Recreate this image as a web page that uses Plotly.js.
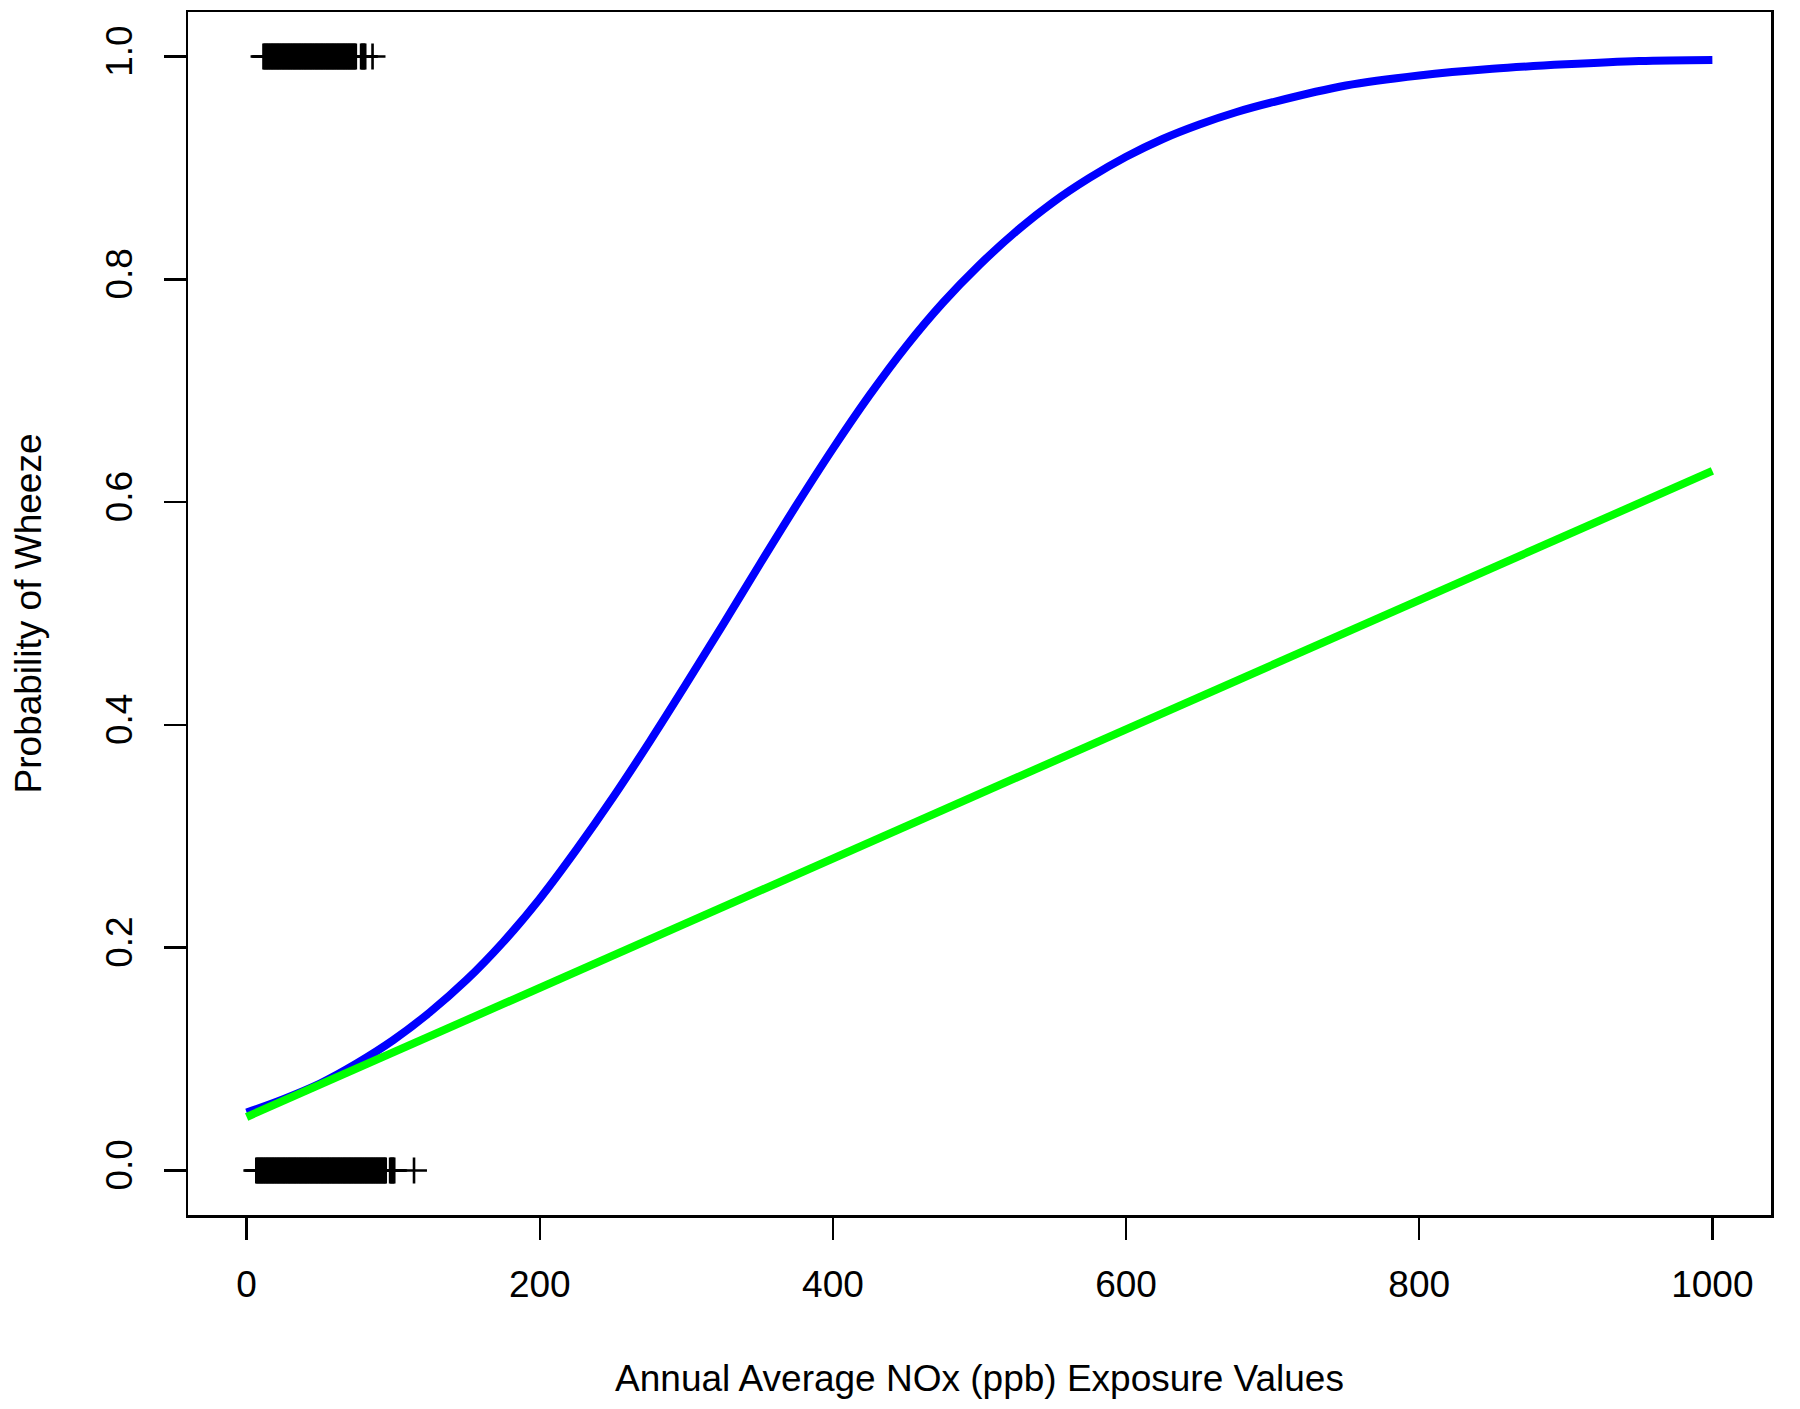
<!DOCTYPE html>
<html>
<head>
<meta charset="utf-8">
<script src="https://cdn.plot.ly/plotly-3.0.1.min.js"></script>
<style>html,body{margin:0;padding:0;background:#fff;}#chart{width:1800px;height:1409px;}</style>
</head>
<body>
<div id="chart"></div>
<script>
// Logistic fit (blue): NOx exposure vs predicted probability of wheeze
const logisticX = [0, 25, 50, 75, 100, 125, 150, 175, 200, 225, 250, 275, 300, 325, 350, 375, 400, 425, 450, 475, 500, 525, 550, 575, 600, 625, 650, 675, 700, 750, 800, 850, 900, 950, 1000];
const logisticP = [0.052, 0.064, 0.078, 0.096, 0.117, 0.142, 0.171, 0.205, 0.244, 0.288, 0.335, 0.385, 0.437, 0.490, 0.544, 0.597, 0.648, 0.696, 0.740, 0.779, 0.813, 0.843, 0.869, 0.891, 0.910, 0.926, 0.939, 0.950, 0.959, 0.974, 0.983, 0.989, 0.993, 0.996, 0.997];

// Linear fit (green)
const linearX = [0, 1000];
const linearP = [0.048, 0.628];

// Observed exposures: cases (wheeze = 1) and non-cases (wheeze = 0)
const casesX = [11.5, 12.2, 13.0, 13.7, 14.5, 15.2, 16.0, 16.7, 17.5, 18.2, 19.0, 19.7, 20.5, 21.2, 22.0, 22.7, 23.5, 24.2, 25.0, 25.7, 26.5, 27.2, 28.0, 28.7, 29.5, 30.2, 31.0, 31.7, 32.5, 33.2, 34.0, 34.7, 35.5, 36.2, 37.0, 37.7, 38.5, 39.2, 40.0, 40.7, 41.5, 42.2, 43.0, 43.7, 44.5, 45.2, 46.0, 46.7, 47.5, 48.2, 49.0, 49.7, 50.5, 51.2, 52.0, 52.7, 53.5, 54.2, 55.0, 55.7, 56.5, 57.2, 58.0, 58.7, 59.5, 60.2, 61.0, 61.7, 62.5, 63.2, 64.0, 64.7, 65.5, 66.2, 67.0, 67.7, 68.5, 69.2, 70.0, 70.7, 71.5, 72.2, 73.0, 73.7, 74.5, 78.1, 78.8, 79.5, 80.2, 80.9, 85.9];
const nonCasesX = [6.6, 7.3, 8.1, 8.8, 9.6, 10.3, 11.1, 11.8, 12.6, 13.3, 14.1, 14.8, 15.6, 16.3, 17.1, 17.8, 18.6, 19.3, 20.1, 20.8, 21.6, 22.3, 23.1, 23.8, 24.6, 25.3, 26.1, 26.8, 27.6, 28.3, 29.1, 29.8, 30.6, 31.3, 32.1, 32.8, 33.6, 34.3, 35.1, 35.8, 36.6, 37.3, 38.1, 38.8, 39.6, 40.3, 41.1, 41.8, 42.6, 43.3, 44.1, 44.8, 45.6, 46.3, 47.1, 47.8, 48.6, 49.3, 50.1, 50.8, 51.6, 52.3, 53.1, 53.8, 54.6, 55.3, 56.1, 56.8, 57.6, 58.3, 59.1, 59.8, 60.6, 61.3, 62.1, 62.8, 63.6, 64.3, 65.1, 65.8, 66.6, 67.3, 68.1, 68.8, 69.6, 70.3, 71.1, 71.8, 72.6, 73.3, 74.1, 74.8, 75.6, 76.3, 77.1, 77.8, 78.6, 79.3, 80.1, 80.8, 81.6, 82.3, 83.1, 83.8, 84.6, 85.3, 86.1, 86.8, 87.6, 88.3, 89.1, 89.8, 90.6, 91.3, 92.1, 92.8, 93.6, 94.3, 94.9, 97.9, 98.6, 99.3, 100.0, 100.7, 114.2];

const xTicks = [0, 200, 400, 600, 800, 1000];
const yTicks = [0, 0.2, 0.4, 0.6, 0.8, 1.0];
const yTickText = ['0.0', '0.2', '0.4', '0.6', '0.8', '1.0'];

const FONT = '"Liberation Sans", Arial, sans-serif';

const rugMarker = {symbol: 'cross-thin', size: 18.5, color: '#000', line: {color: '#000', width: 2.6}};

const traces = [
  {x: casesX, y: casesX.map(() => 1), type: 'scatter', mode: 'markers', marker: rugMarker, hoverinfo: 'x', showlegend: false},
  {x: nonCasesX, y: nonCasesX.map(() => 0), type: 'scatter', mode: 'markers', marker: rugMarker, hoverinfo: 'x', showlegend: false},
  {x: logisticX, y: logisticP, type: 'scatter', mode: 'lines', line: {color: '#0000FF', width: 8, shape: 'spline', smoothing: 1}, showlegend: false},
  {x: linearX, y: linearP, type: 'scatter', mode: 'lines', line: {color: '#00FF00', width: 8}, showlegend: false}
];

const axisCommon = {
  showgrid: false, zeroline: false,
  showline: true, mirror: true, linecolor: '#000', linewidth: 2.5,
  ticks: 'outside', ticklen: 22, tickwidth: 2.5, tickcolor: '#000',
  tickfont: {family: FONT, size: 37, color: '#000'},
  automargin: false
};

const layout = {
  width: 1800, height: 1409,
  margin: {l: 188, r: 29, t: 12, b: 194},
  paper_bgcolor: '#fff', plot_bgcolor: '#fff',
  font: {family: FONT, color: '#000'},
  showlegend: false,
  xaxis: Object.assign({}, axisCommon, {
    range: [-40, 1040],
    tickmode: 'array', tickvals: xTicks, ticktext: xTicks.map(String),
    ticklabelstandoff: 13,
    title: {text: 'Annual Average NOx (ppb) Exposure Values', font: {family: FONT, size: 37, color: '#000'}, standoff: 61}
  }),
  yaxis: Object.assign({}, axisCommon, {
    range: [-0.04, 1.04],
    tickmode: 'array', tickvals: yTicks, ticktext: yTickText,
    tickangle: -90,
    ticklabelstandoff: 17,
    title: {text: 'Probability of Wheeze', font: {family: FONT, size: 37, color: '#000'}, standoff: 46}
  })
};

Plotly.newPlot('chart', traces, layout, {displayModeBar: false, staticPlot: true});
</script>
</body>
</html>
